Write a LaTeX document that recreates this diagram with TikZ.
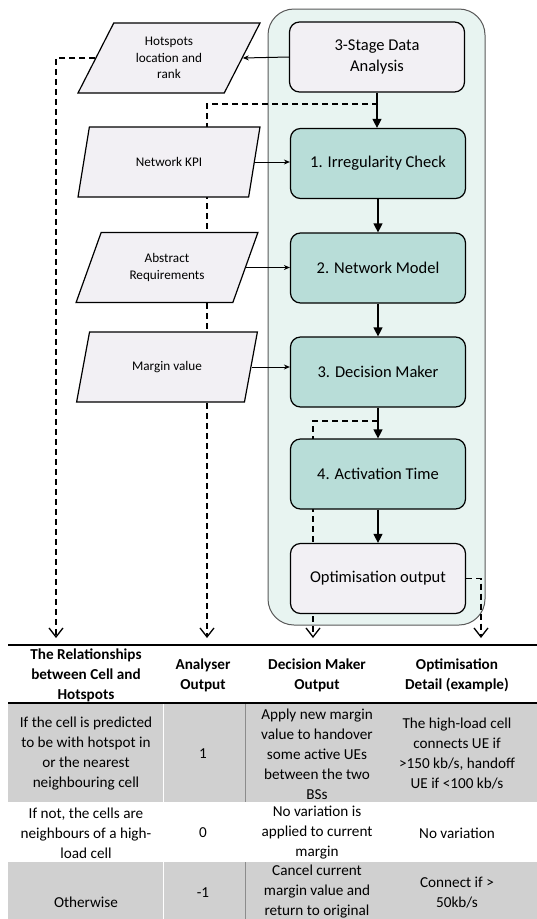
\documentclass[tikz,border=0pt]{standalone}
\usepackage{fontspec}
\setmainfont{Carlito}
\usetikzlibrary{shapes.geometric,arrows.meta,calc,backgrounds}

\definecolor{panelfill}{HTML}{E8F4F1}
\definecolor{stagefill}{HTML}{B8DDD8}
\definecolor{iofill}{HTML}{F2F0F4}
\definecolor{rowgray}{HTML}{D0D0D0}

\pgfdeclarelayer{links}
\pgfsetlayers{background,links,main}

\tikzset{
	stagebox/.style={draw, line width=1.2pt, rounded corners=10pt, fill=stagefill,
		minimum width=175pt, minimum height=70pt, align=center,
		font=\fontsize{16.5}{21}\selectfont},
	endbox/.style={stagebox, fill=iofill},
	databox/.style={trapezium, trapezium left angle=63, trapezium right angle=117,
		trapezium stretches=true, draw, line width=1.2pt, fill=iofill,
		minimum width=182pt, minimum height=70pt, inner sep=0pt, align=center,
		font=\fontsize{13.2}{16.7}\selectfont},
	flow/.style={line width=1.2pt, -{Triangle[length=9pt,width=9pt]}},
	feed/.style={line width=1pt, -{Stealth[length=6pt,width=5pt]}},
	link/.style={line width=1.3pt, dash pattern=on 6pt off 4pt,
		-{Straight Barb[length=9pt,width=14pt]}},
	thead/.style={align=center, font=\bfseries\fontsize{15.2}{20}\selectfont},
	tcell/.style={align=center, font=\fontsize{15.2}{20}\selectfont},
}

\begin{document}
\begin{tikzpicture}[x=1pt,y=-1pt]
	\useasboundingbox (0,0) rectangle (537,919);
	\clip (0,0) rectangle (537,919);

	% panel round the analysis stages
	\begin{pgfonlayer}{background}
		\draw[draw=black!65, line width=1pt, fill=panelfill, rounded corners=26pt]
			(268,9) rectangle (485,625);
	\end{pgfonlayer}

	% stages
	\node[endbox] (analysis) at (377,57) {3-Stage Data\\Analysis};
	\node[stagebox] (check) at (378,163.5) {1. Irregularity Check};
	\node[stagebox] (model) at (378,268) {2. Network Model};
	\node[stagebox] (decide) at (378,372) {3. Decision Maker};
	\node[stagebox] (activate) at (378,474) {4. Activation Time};
	\node[endbox] (output) at (378,578.5) {Optimisation output};

	% inputs and outputs
	\node[databox] (hotspots) at (169,58) {Hotspots\\location and\\rank};
	\node[databox] (kpi) at (169,162) {Network KPI};
	\node[databox] (reqs) at (167,267.5) {Abstract\\Requirements};
	\node[databox] (margin) at (167,367) {Margin value};

	% flow between stages
	\draw[flow] (analysis.south) -- (analysis.south |- check.north);
	\draw[flow] (check) -- (model);
	\draw[flow] (model) -- (decide);
	\draw[flow] (decide) -- (activate);
	\draw[flow] (activate) -- (output);

	% data arrows
	\draw[feed] (analysis.west) -- (hotspots.east);
	\draw[feed] (kpi.east) -- (kpi.east -| check.west);
	\draw[feed] (reqs.east) -- (reqs.east -| model.west);
	\draw[feed] (margin.east) -- (margin.east -| decide.west);

	% dashed links down to the table
	\coordinate (tapA) at (378,104);
	\coordinate (tapB) at (378,421);
	\coordinate (colA) at (56,638);
	\coordinate (colB) at (207,638);
	\coordinate (colC) at (313,638);
	\coordinate (colD) at (481,638);
	\begin{pgfonlayer}{links}
		\draw[link] (hotspots.west) -| (colA);
		\draw[link] (tapA) -| (colB);
		\draw[link] (tapB) -| (colC);
		\draw[link] (output.east) -| (colD);
	\end{pgfonlayer}

	% table
	\fill[rowgray] (8,703) rectangle (537,802);
	\fill[rowgray] (8,862) rectangle (537,925);
	\draw[white, line width=1pt] (163,703) -- (163,802) (163,862) -- (163,925);
	\draw[black!45, line width=0.8pt] (245,703) -- (245,802) (245,862) -- (245,925);
	\draw[line width=1.6pt] (8,645) -- (537,645);
	\draw[line width=1.6pt] (8,703) -- (537,703);

	\node[thead] (h1) at (86,675) {The Relationships\\between Cell and\\Hotspots};
	\node[thead] (h2) at (203,675) {Analyser\\Output};
	\node[thead] (h3) at (317,675) {Decision Maker\\Output};
	\node[thead] (h4) at (457,675) {Optimisation\\Detail (example)};

	\node[tcell] (a1) at (86,754) {If the cell is predicted\\to be with hotspot in\\or the nearest\\neighbouring cell};
	\node[tcell] (a2) at (203,754) {1};
	\node[tcell] (a3) at (317,754) {Apply new margin\\value to handover\\some active UEs\\between the two\\BSs};
	\node[tcell] (a4) at (457,754) {The high-load cell\\connects UE if\\>150 kb/s, handoff\\UE if <100 kb/s};

	\node[tcell] (b1) at (86,833) {If not, the cells are\\neighbours of a high-\\load cell};
	\node[tcell] (b2) at (203,833) {0};
	\node[tcell] (b3) at (317,833) {No variation is\\applied to current\\margin};
	\node[tcell] (b4) at (457,833) {No variation};

	\node[tcell] (c1) at (86,902) {Otherwise};
	\node[tcell] (c2) at (203,893) {-1};
	\node[tcell] (c3) at (317,892) {Cancel current\\margin value and\\return to original};
	\node[tcell] (c4) at (457,892.5) {Connect if >\\50kb/s};
\end{tikzpicture}
\end{document}
